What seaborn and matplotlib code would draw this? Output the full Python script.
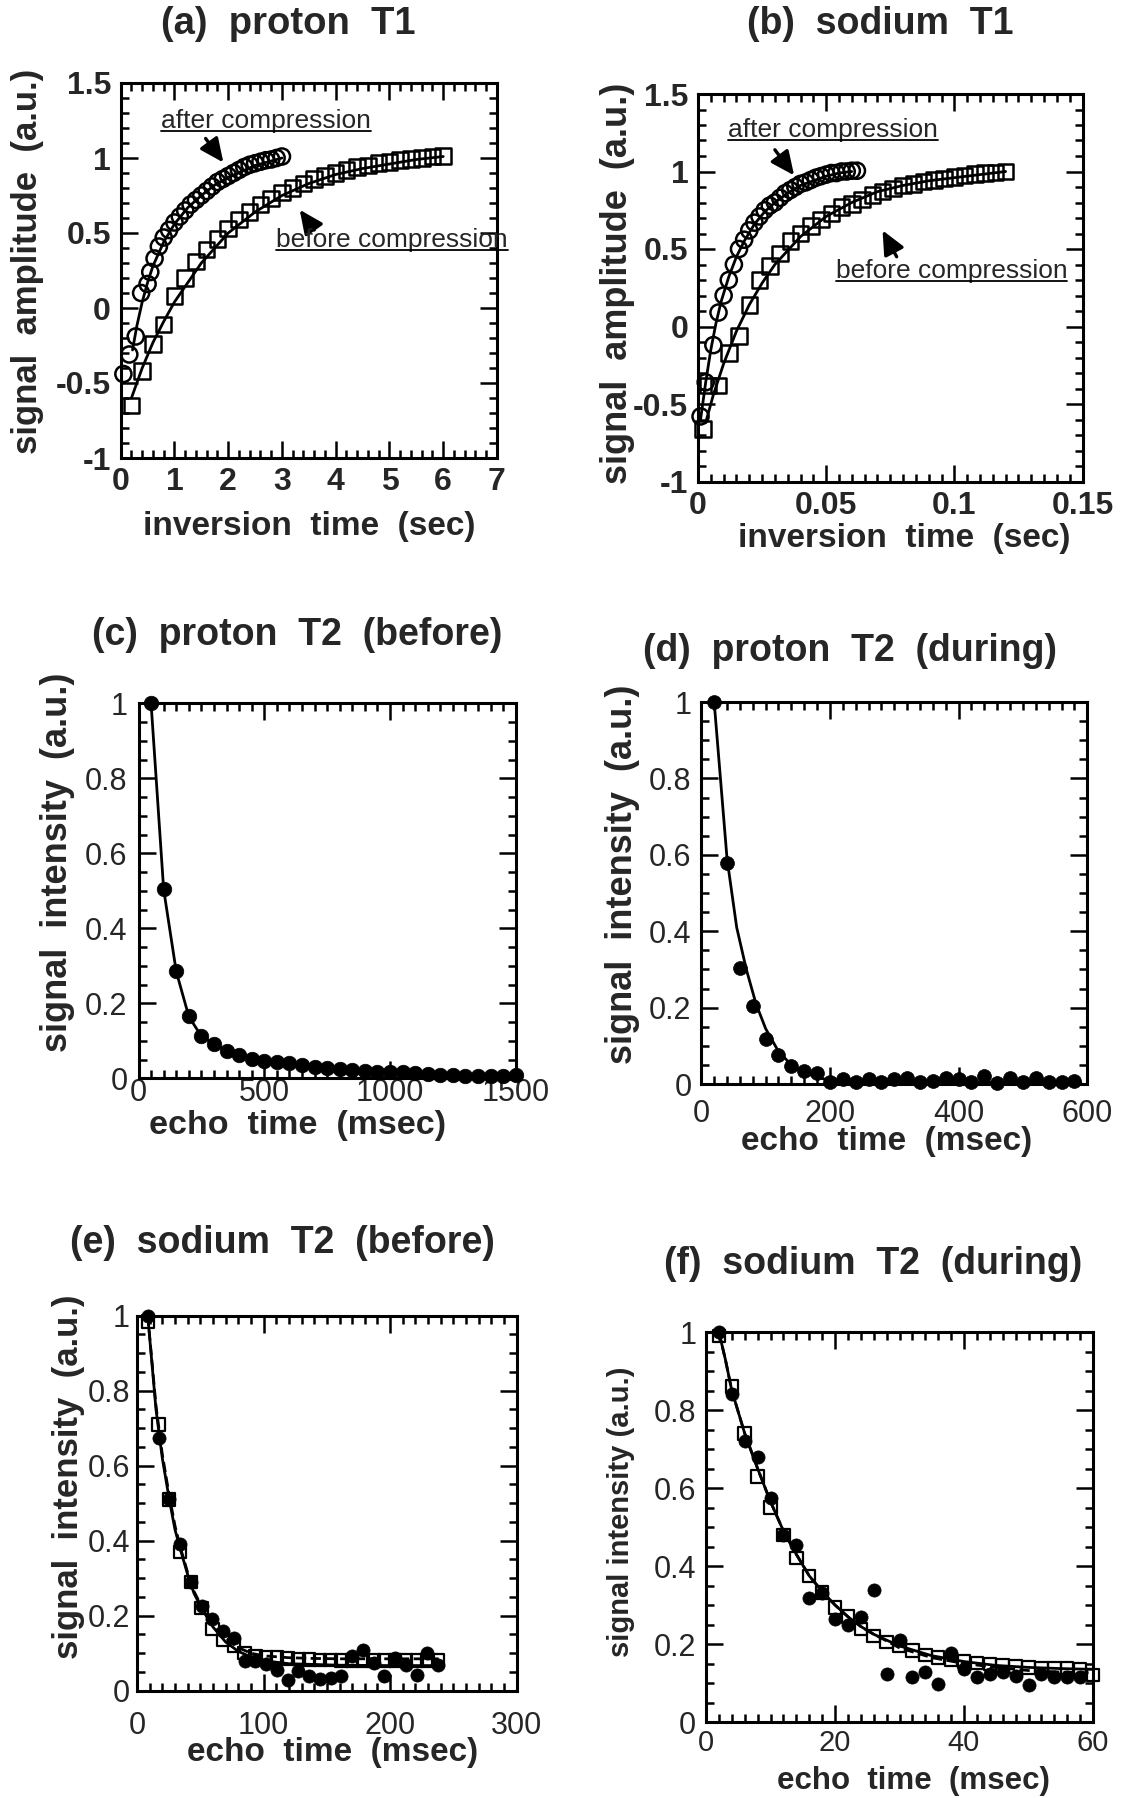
import numpy as np
import pandas as pd
import matplotlib
matplotlib.use("Agg")
import matplotlib.pyplot as plt
import seaborn as sns
from matplotlib.ticker import MultipleLocator
from matplotlib.lines import Line2D

# ---------------- data ----------------
# (a) proton T1
a_after_x = [0.05, 0.16, 0.28, 0.38, 0.50, 0.55, 0.63, 0.71, 0.80, 0.90, 1.00, 1.10, 1.20, 1.30,
             1.40, 1.50, 1.60, 1.70, 1.80, 1.90, 2.00, 2.10, 2.20, 2.30, 2.40, 2.50, 2.60, 2.70,
             2.80, 2.90, 3.00]
a_after_y = [-0.44, -0.31, -0.19, 0.10, 0.16, 0.24, 0.33, 0.41, 0.47, 0.52, 0.57, 0.61, 0.65, 0.69,
             0.72, 0.75, 0.78, 0.81, 0.84, 0.86, 0.88, 0.90, 0.92, 0.94, 0.955, 0.965, 0.975, 0.985,
             0.99, 1.0, 1.01]
a_before_x = [0.2, 0.4, 0.6, 0.8, 1.0, 1.2, 1.4, 1.6, 1.8, 2.0, 2.2, 2.4, 2.6, 2.8, 3.0, 3.2, 3.4,
              3.6, 3.8, 4.0, 4.2, 4.4, 4.6, 4.8, 5.0, 5.2, 5.4, 5.6, 5.8, 6.0]
a_before_y = [-0.65, -0.42, -0.24, -0.11, 0.08, 0.20, 0.31, 0.39, 0.46, 0.53, 0.59, 0.64, 0.69, 0.73,
              0.77, 0.80, 0.83, 0.86, 0.88, 0.90, 0.92, 0.94, 0.95, 0.965, 0.975, 0.985, 0.995, 1.0,
              1.01, 1.015]
a_fit_after_x = [0.22, 0.30, 0.40, 0.50, 0.60, 0.80, 1.00, 1.25, 1.50, 1.75, 2.00, 2.50, 3.00]
a_fit_after_y = [-0.28, -0.12, 0.04, 0.17, 0.28, 0.44, 0.56, 0.67, 0.75, 0.82, 0.87, 0.95, 1.0]
a_fit_before_x = [0.2, 0.4, 0.6, 0.8, 1.0, 1.5, 2.0, 2.5, 3.0, 3.5, 4.0, 4.5, 5.0, 5.5, 6.0]
a_fit_before_y = [-0.60, -0.40, -0.23, -0.09, 0.04, 0.30, 0.50, 0.64, 0.75, 0.83, 0.89, 0.93, 0.96,
                  0.99, 1.01]

# (b) sodium T1
b_after_x = [0.001, 0.003, 0.006, 0.008, 0.010, 0.012, 0.014, 0.016, 0.018, 0.020, 0.022, 0.024,
             0.026, 0.028, 0.030, 0.032, 0.034, 0.036, 0.038, 0.040, 0.042, 0.044, 0.046, 0.048,
             0.050, 0.052, 0.054, 0.056, 0.058, 0.060, 0.062]
b_after_y = [-0.58, -0.36, -0.12, 0.09, 0.20, 0.30, 0.40, 0.50, 0.56, 0.62, 0.67, 0.71, 0.75, 0.78,
             0.80, 0.83, 0.86, 0.88, 0.90, 0.92, 0.93, 0.945, 0.96, 0.97, 0.98, 0.99, 0.99, 1.0, 1.0,
             1.005, 1.005]
b_before_x = [0.002, 0.004, 0.008, 0.012, 0.016, 0.020, 0.024, 0.028, 0.032, 0.036, 0.040, 0.044,
              0.048, 0.052, 0.056, 0.060, 0.064, 0.068, 0.072, 0.076, 0.080, 0.084, 0.088, 0.092,
              0.096, 0.100, 0.104, 0.108, 0.112, 0.116, 0.120]
b_before_y = [-0.66, -0.38, -0.38, -0.17, -0.06, 0.14, 0.30, 0.39, 0.47, 0.55, 0.60, 0.65, 0.69,
              0.73, 0.77, 0.79, 0.82, 0.85, 0.87, 0.89, 0.91, 0.92, 0.935, 0.945, 0.955, 0.965,
              0.975, 0.985, 0.99, 0.995, 1.0]
b_fit_after_x = [0.001, 0.003, 0.005, 0.007, 0.009, 0.012, 0.015, 0.018, 0.022, 0.026, 0.030,
                 0.035, 0.040, 0.045, 0.050, 0.055, 0.060]
b_fit_after_y = [-0.60, -0.36, -0.15, 0.02, 0.16, 0.32, 0.45, 0.55, 0.66, 0.74, 0.80, 0.86, 0.91,
                 0.94, 0.97, 0.99, 1.0]
b_fit_before_x = [0.003, 0.006, 0.010, 0.015, 0.020, 0.025, 0.030, 0.040, 0.050, 0.060, 0.070,
                  0.080, 0.090, 0.100, 0.110, 0.120]
b_fit_before_y = [-0.62, -0.44, -0.24, -0.03, 0.14, 0.28, 0.40, 0.58, 0.71, 0.80, 0.87, 0.91, 0.94,
                  0.96, 0.98, 1.0]

# (c) proton T2 (before)
c_x = [50, 100, 150, 200, 250, 300, 350, 400, 450, 500, 550, 600, 650, 700, 750, 800, 850, 900,
       950, 1000, 1050, 1100, 1150, 1200, 1250, 1300, 1350, 1400, 1450, 1500]
c_y = [1.0, 0.504, 0.285, 0.165, 0.112, 0.092, 0.073, 0.063, 0.052, 0.046, 0.043, 0.042, 0.036,
       0.031, 0.028, 0.025, 0.022, 0.020, 0.018, 0.017, 0.016, 0.014, 0.012, 0.010, 0.008, 0.007,
       0.006, 0.005, 0.006, 0.008]

# (d) proton T2 (during)
d_x = [20, 40, 60, 80, 100, 120, 140, 160, 180, 200, 220, 240, 260, 280, 300, 320, 340, 360, 380,
       400, 420, 440, 460, 480, 500, 520, 540, 560, 580]
d_y = [1.0, 0.578, 0.303, 0.205, 0.118, 0.076, 0.046, 0.034, 0.030, 0.006, 0.013, 0.006, 0.013,
       0.006, 0.013, 0.016, 0.006, 0.008, 0.015, 0.013, 0.006, 0.022, 0.003, 0.015, 0.006, 0.015,
       0.006, 0.006, 0.008]
d_fit_x = [20, 40, 55, 70, 85, 100, 120, 140, 160, 180, 200, 250, 300, 400, 500, 590]
d_fit_y = [1.0, 0.59, 0.41, 0.30, 0.21, 0.145, 0.085, 0.05, 0.03, 0.017, 0.01, 0.005, 0.004, 0.004,
           0.004, 0.004]

# (e) sodium T2 (before)
e_x = [8.5, 17, 25.5, 34, 42.5, 51, 59.5, 68, 76.5, 85, 93.5, 102, 110.5, 119, 127.5, 136, 144.5,
       153, 161.5, 170, 178.5, 187, 195.5, 204, 212.5, 221, 229.5, 238]
e_circ_y = [1.0, 0.675, 0.51, 0.39, 0.29, 0.225, 0.19, 0.16, 0.14, 0.08, 0.078, 0.07, 0.055, 0.028,
            0.052, 0.038, 0.031, 0.033, 0.038, 0.093, 0.108, 0.075, 0.038, 0.088, 0.068, 0.043,
            0.10, 0.068]
e_sq_y = [0.985, 0.71, 0.51, 0.37, 0.29, 0.22, 0.165, 0.135, 0.12, 0.10, 0.093, 0.09, 0.088, 0.086,
          0.085, 0.083, 0.082, 0.082, 0.081, 0.08, 0.08, 0.08, 0.08, 0.08, 0.08, 0.08, 0.08, 0.08]
e_fit_x = [8.5, 15, 20, 25.5, 30, 34, 40, 45, 51, 60, 70, 80, 90, 100, 120, 140, 160, 200, 240]
e_fit_circ_y = [1.0, 0.75, 0.62, 0.51, 0.43, 0.38, 0.31, 0.26, 0.22, 0.17, 0.13, 0.105, 0.09, 0.08,
                0.072, 0.07, 0.068, 0.067, 0.067]
e_fit_sq_y = [1.0, 0.76, 0.63, 0.52, 0.44, 0.385, 0.315, 0.265, 0.225, 0.175, 0.14, 0.115, 0.10,
              0.093, 0.088, 0.086, 0.085, 0.085, 0.085]

# (f) sodium T2 (during)
f_circ_x = [2, 4, 6, 8, 10, 12, 14, 16, 18, 20, 22, 24, 26, 28, 30, 32, 34, 36, 38, 40, 42, 44, 46,
            48, 50, 52, 54, 56, 58]
f_circ_y = [1.0, 0.84, 0.72, 0.68, 0.575, 0.48, 0.455, 0.317, 0.33, 0.265, 0.25, 0.27, 0.338,
            0.122, 0.21, 0.115, 0.127, 0.098, 0.176, 0.137, 0.115, 0.122, 0.128, 0.117, 0.096,
            0.122, 0.115, 0.115, 0.115]
f_sq_x = [2, 4, 6, 8, 10, 12, 14, 16, 18, 20, 22, 24, 26, 28, 30, 32, 34, 36, 38, 40, 42, 44, 46,
          48, 50, 52, 54, 56, 58, 60]
f_sq_y = [0.99, 0.86, 0.74, 0.63, 0.55, 0.48, 0.42, 0.375, 0.332, 0.294, 0.27, 0.238, 0.221, 0.205,
          0.195, 0.183, 0.172, 0.165, 0.16, 0.155, 0.151, 0.148, 0.145, 0.142, 0.14, 0.139, 0.138,
          0.137, 0.136, 0.12]
f_fit_x = [2, 3, 4, 6, 8, 10, 12, 14, 16, 18, 20, 22, 24, 26, 28, 30, 35, 40, 45, 50, 55, 60]
f_fit_sq_y = [1.0, 0.93, 0.85, 0.74, 0.65, 0.565, 0.49, 0.43, 0.375, 0.335, 0.30, 0.27, 0.245,
              0.225, 0.21, 0.195, 0.17, 0.155, 0.145, 0.14, 0.137, 0.135]
f_fit_circ_y = [1.0, 0.93, 0.85, 0.74, 0.65, 0.565, 0.49, 0.43, 0.375, 0.335, 0.30, 0.27, 0.245,
                0.225, 0.208, 0.19, 0.165, 0.15, 0.14, 0.132, 0.128, 0.126]

titles = ["(a)  proton  T1", "(b)  sodium  T1", "(c)  proton  T2  (before)",
          "(d)  proton  T2  (during)", "(e)  sodium  T2  (before)", "(f)  sodium  T2  (during)"]
xlabels = ["inversion  time  (sec)", "inversion  time  (sec)", "echo  time  (msec)",
           "echo  time  (msec)", "echo  time  (msec)", "echo  time  (msec)"]
ylabels = ["signal  amplitude  (a.u.)", "signal  amplitude  (a.u.)", "signal  intensity  (a.u.)",
           "signal  intensity  (a.u.)", "signal  intensity  (a.u.)", "signal intensity (a.u.)"]

# ---------------- style ----------------
sns.set_theme(style="ticks")
plt.rcParams["font.family"] = ["Liberation Sans", "DejaVu Sans"]
plt.rcParams["axes.unicode_minus"] = False
plt.rcParams["axes.linewidth"] = 2.2

W, H = 1125, 1798
fig = plt.figure(figsize=(W / 100, H / 100), dpi=100)
fig.patch.set_facecolor("white")

# axes boxes in pixels: left, top, right, bottom
boxes = [(120.7, 83, 497, 458), (698, 94, 1082.5, 481.5), (138.5, 703.3, 515.7, 1078.3),
         (701.3, 702, 1087.3, 1084), (137, 1315.7, 516.7, 1690.7), (706, 1332, 1093, 1722)]
axes = []
for (l, t, r, b) in boxes:
    ax = fig.add_axes([l / W, 1 - b / H, (r - l) / W, (b - t) / H])
    ax.set_facecolor("white")
    axes.append(ax)

title_pos = [(0.445, 1.157), (0.473, 1.180), (0.420, 1.183), (0.385, 1.133), (0.382, 1.195),
             (0.433, 1.175)]
title_size = [27.5, 27, 27, 27, 27, 27]
xlab_pos = [(0.50, -0.184), (0.536, -0.146), (0.423, -0.127), (0.481, -0.150), (0.515, -0.166),
            (0.535, -0.151)]
ylab_pos = [(-0.249, 0.525), (-0.209, 0.51), (-0.216, 0.577), (-0.203, 0.55), (-0.180, 0.571),
            (-0.220, 0.54)]
xlab_size = [24, 24, 24.5, 24, 24, 22.5]
ylab_size = [25, 26, 26, 26, 25, 21]
xtick_size = [23, 23, 22, 22, 22, 21]

limits = [((0, 7), (-1, 1.5)), ((0, 0.15), (-1, 1.5)), ((0, 1500), (0, 1)), ((0, 600), (0, 1)),
          ((0, 300), (0, 1)), ((0, 60), (0, 1))]
xmajor = [1, 0.05, 500, 200, 100, 20]
xminor = [0.2, 0.005, 50, 20, 10, 2]
ymajor = [0.5, 0.5, 0.2, 0.2, 0.2, 0.2]
yminor = [0.1, 0.1, 0.05, 0.05, 0.05, 0.05]
xpads = [6.5, 7, 0.0, 10.5, 14.5, 5]
ypads = [7, 7, 8, 7, 5, 7]

for i, ax in enumerate(axes):
    (x0, x1), (y0, y1) = limits[i]
    ax.set_xlim(x0, x1)
    ax.set_ylim(y0, y1)
    bold = i < 2
    tsize = 23 if bold else 22
    xt = np.arange(x0, x1 + xmajor[i] / 2, xmajor[i])
    yt = np.arange(y0, y1 + ymajor[i] / 2, ymajor[i])
    ax.set_xticks(xt)
    ax.set_yticks(yt)
    ax.set_xticklabels([f"{v:g}" for v in np.round(xt, 6)], fontweight="bold" if bold else "normal",
                       fontsize=xtick_size[i])
    ax.set_yticklabels([f"{v:g}" for v in np.round(yt, 6)], fontweight="bold" if bold else "normal",
                       fontsize=tsize)
    ax.xaxis.set_minor_locator(MultipleLocator(xminor[i]))
    ax.yaxis.set_minor_locator(MultipleLocator(yminor[i]))
    ax.tick_params(which="both", direction="in", top=True, right=True, width=1.8, color="black")
    ax.tick_params(which="major", length=12)
    ax.tick_params(which="minor", length=6)
    ax.tick_params(axis="x", which="major", pad=xpads[i])
    ax.tick_params(axis="y", which="major", pad=ypads[i])
    for sp in ax.spines.values():
        sp.set_color("black")
        sp.set_linewidth(2.2)
    ax.set_title(titles[i], fontsize=title_size[i], fontweight="bold", y=title_pos[i][1],
                 va="center", pad=0)
    ax.title.set_x(title_pos[i][0])
    ax.set_xlabel(xlabels[i], fontsize=xlab_size[i], fontweight="bold", va="center", ha="center")
    ax.xaxis.set_label_coords(*xlab_pos[i])
    ax.set_ylabel(ylabels[i], fontsize=ylab_size[i], fontweight="bold", va="center", ha="center")
    ax.yaxis.set_label_coords(*ylab_pos[i])


def open_pts(ax, x, y, marker, s, lw=1.8):
    sns.scatterplot(x=x, y=y, ax=ax, marker=marker, s=s, facecolor="none", edgecolor="black",
                    linewidth=lw, clip_on=False, zorder=3, legend=False)


def filled_pts(ax, x, y, s):
    sns.scatterplot(x=x, y=y, ax=ax, marker="o", s=s, color="black", edgecolor="black",
                    linewidth=0.5, clip_on=False, zorder=3, legend=False)


def fit_line(ax, x, y, ls="-"):
    sns.lineplot(x=x, y=y, ax=ax, color="black", lw=2.0, linestyle=ls, sort=False,
                 estimator=None, zorder=2, legend=False)


# (a)
ax = axes[0]
fit_line(ax, a_fit_after_x, a_fit_after_y)
fit_line(ax, a_fit_before_x, a_fit_before_y)
open_pts(ax, a_after_x, a_after_y, "o", 135)
open_pts(ax, a_before_x, a_before_y, "s", 125)

# (b)
ax = axes[1]
fit_line(ax, b_fit_after_x, b_fit_after_y)
fit_line(ax, b_fit_before_x, b_fit_before_y)
open_pts(ax, b_after_x, b_after_y, "o", 135)
open_pts(ax, b_before_x, b_before_y, "s", 125)

# (c)
ax = axes[2]
fit_line(ax, c_x, c_y)
filled_pts(ax, c_x, c_y, 110)

# (d)
ax = axes[3]
fit_line(ax, d_fit_x, d_fit_y)
filled_pts(ax, d_x, d_y, 100)

# (e)
ax = axes[4]
fit_line(ax, e_fit_x, e_fit_circ_y)
fit_line(ax, e_fit_x, e_fit_sq_y, ls="--")
filled_pts(ax, e_x, e_circ_y, 90)
open_pts(ax, e_x, e_sq_y, "s", 80, lw=1.6)

# (f)
ax = axes[5]
fit_line(ax, f_fit_x, f_fit_sq_y)
fit_line(ax, f_fit_x, f_fit_circ_y, ls="--")
filled_pts(ax, f_circ_x, f_circ_y, 90)
open_pts(ax, f_sq_x, f_sq_y, "s", 80, lw=1.6)

# annotations
notes = [
    (axes[0], "after compression", (0.75, 1.20), (1.58, 1.13), (1.91, 0.97)),
    (axes[0], "before compression", (2.89, 0.41), (3.60, 0.52), (3.33, 0.655)),
    (axes[1], "after compression", (0.0117, 1.22), (0.030, 1.14), (0.0375, 0.975)),
    (axes[1], "before compression", (0.0537, 0.316), (0.0775, 0.45), (0.072, 0.62)),
]
texts = []
for ax, s, (tx, ty), tail, tip in notes:
    t = ax.text(tx, ty, s, fontsize=19, ha="left", va="baseline", clip_on=False, zorder=5)
    texts.append((ax, t, ty))
    ax.annotate("", xy=tip, xytext=tail,
                arrowprops=dict(arrowstyle="-|>,head_length=1.2,head_width=0.55",
                                color="black", lw=2.4, shrinkA=0, shrinkB=0))

fig.canvas.draw()
inv = fig.transFigure.inverted()
for ax, t, ty in texts:
    bb = t.get_window_extent()
    ybase = ax.transData.transform((0, ty))[1] - 3
    (fx0, fy), (fx1, _) = inv.transform([(bb.x0, ybase), (bb.x1, ybase)])
    fig.add_artist(Line2D([fx0, fx1], [fy, fy], color="black", lw=1.3))

fig.savefig("out.png", dpi=100, facecolor="white")
